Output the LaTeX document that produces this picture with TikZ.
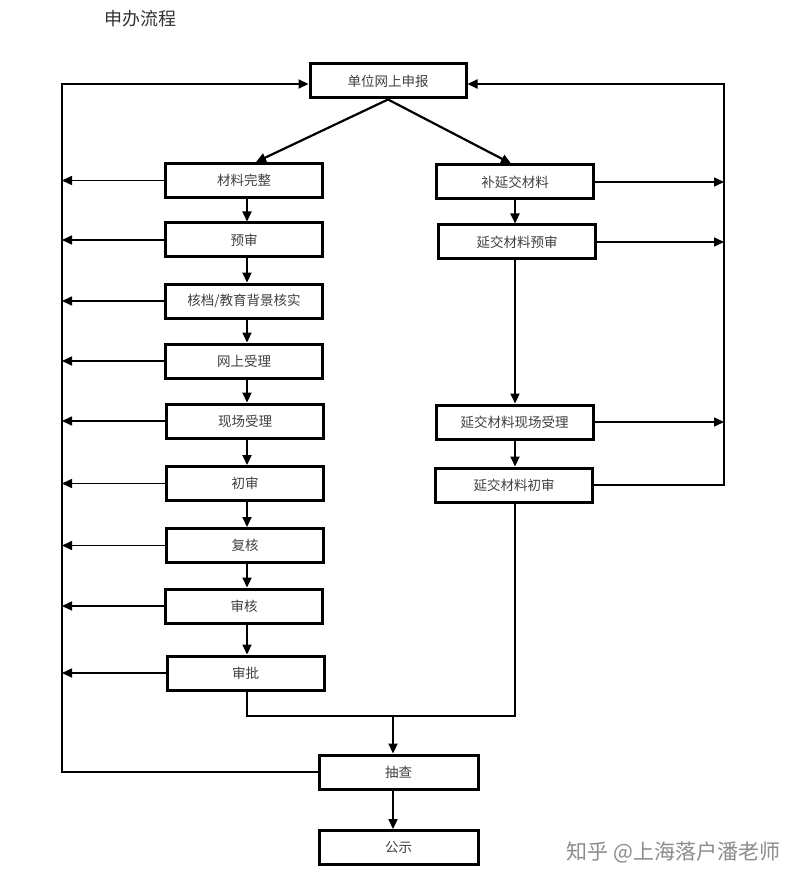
\documentclass[tikz,border=0pt]{standalone}
\usepackage{fontspec}
\setmainfont{Noto Sans CJK SC}
\usetikzlibrary{arrows.meta}
\tikzset{
  boxnode/.style={draw, line width=3pt, rectangle, minimum width=157pt, minimum height=34pt, inner sep=0pt, font=\fontsize{13.5}{15}\selectfont, text=black!75},
  arr/.style={line width=2.2pt, -{Triangle[length=10pt,width=9pt]}},
  ln/.style={line width=2pt},
  thinarr/.style={line width=1.6pt, -{Triangle[length=10pt,width=9pt]}},
}
\begin{document}
\begin{tikzpicture}[x=1pt,y=-1pt]
\useasboundingbox[fill=white] (0,0) rectangle (802,890);
\node[font=\fontsize{18}{20}\selectfont, text=black!80] (title) at (140,19) {申办流程};

\node[boxnode, minimum width=156pt] (top) at (388,81) {单位网上申报};

\node[boxnode] (b1) at (244,180.5) {材料完整};
\node[boxnode] (b2) at (244,240) {预审};
\node[boxnode] (b3) at (244,301) {核档/教育背景核实};
\node[boxnode] (b4) at (244,361) {网上受理};
\node[boxnode] (b5) at (245,421) {现场受理};
\node[boxnode] (b6) at (245,483.5) {初审};
\node[boxnode] (b7) at (245,545.5) {复核};
\node[boxnode] (b8) at (244,606) {审核};
\node[boxnode] (b9) at (245.5,673) {审批};

\node[boxnode] (r1) at (515,182) {补延交材料};
\node[boxnode] (r2) at (517,242) {延交材料预审};
\node[boxnode] (r3) at (514.5,422) {延交材料现场受理};
\node[boxnode] (r4) at (514,485) {延交材料初审};

\node[boxnode, minimum width=159pt] (cc) at (398.5,772) {抽查};
\node[boxnode, minimum width=159pt] (gs) at (398.5,847.5) {公示};

\coordinate (L) at (62,400);
\coordinate (R) at (724,300);
\coordinate (M) at (393,716);
\coordinate (CL) at (247,400);
\coordinate (CR) at (515,300);

% diagonals
\draw[arr] (top.south) -- ([xshift=12pt]b1.north);
\draw[arr] (top.south) -- ([xshift=-4pt]r1.north);

% left column chain
\foreach \a/\b in {b1/b2,b2/b3,b3/b4,b4/b5,b5/b6,b6/b7,b7/b8,b8/b9}
  \draw[arr] (\a.south -| CL) -- (\b.north -| CL);

% right column chain
\draw[arr] (r1.south -| CR) -- (r2.north -| CR);
\draw[arr] (r2.south -| CR) -- (r3.north -| CR);
\draw[arr] (r3.south -| CR) -- (r4.north -| CR);

% left return arrows
\foreach \a in {b1,b2,b3,b4,b5,b6,b7,b8,b9}
  \draw[thinarr] (\a.west) -- (\a.west -| L);
\draw[ln, -{Triangle[length=10pt,width=9pt]}] (cc.west) -| (L) |- ([yshift=-3pt]top.west);

% right return arrows
\foreach \a in {r1,r2,r3}
  \draw[thinarr] (\a.east) -- (\a.east -| R);
\draw[ln, -{Triangle[length=10pt,width=9pt]}] (r4.east) -| (R) |- ([yshift=-3pt]top.east);

% merge to 抽查
\draw[ln] (b9.south -| CL) |- (M);
\draw[ln] (r4.south -| CR) |- (M);
\draw[arr] (M) -- (M |- cc.north);
\draw[arr] (cc.south -| M) -- (M |- gs.north);

% watermark
\node[font=\fontsize{21}{24}\selectfont, text=black!45, anchor=east] (wm) at (784,852) {知乎 @上海落户潘老师};
\end{tikzpicture}
\end{document}
